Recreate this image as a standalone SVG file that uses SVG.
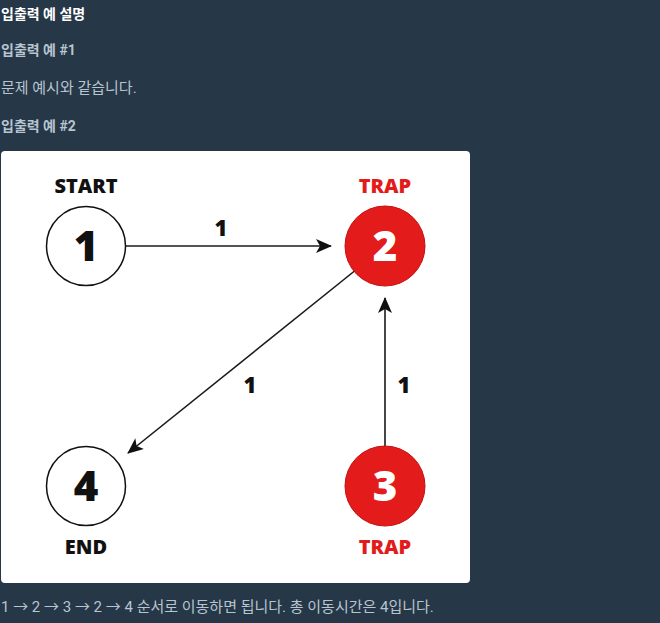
<svg xmlns="http://www.w3.org/2000/svg" width="660" height="623" viewBox="0 0 660 623">
<defs>
<style>
.hd{font-family:"Roboto","Noto Sans CJK KR",sans-serif;font-size:14px;font-weight:bold}
.tx{font-family:"Roboto","Noto Sans CJK KR",sans-serif;font-size:15px;fill:#b8c5d0}
.lbl{font-family:"Open Sans","Noto Sans",sans-serif;font-weight:800;font-size:20px;text-anchor:middle}
.num{font-family:"Open Sans","Noto Sans",sans-serif;font-weight:800;font-size:42px;text-anchor:middle}
.w{font-family:"Open Sans","Noto Sans",sans-serif;font-weight:800;font-size:22px;text-anchor:middle;fill:#111}
.edge{stroke:#1a1a1a;stroke-width:1.6;fill:none;marker-end:url(#ah)}
.wc{fill:#fff;stroke:#111;stroke-width:1.5}
.rc{fill:#e31b1b;stroke:#c41010;stroke-width:1}
</style>
<marker id="ah" viewBox="0 0 16 14" refX="15" refY="7" markerWidth="16" markerHeight="14" markerUnits="userSpaceOnUse" orient="auto">
<path d="M0,0 L16,7 L0,14 L4,7 Z" fill="#111"/>
</marker>
</defs>
<rect width="660" height="623" fill="#263747"/>
<text class="hd" x="1" y="19" fill="#ffffff">입출력 예 설명</text>
<text class="hd" x="1" y="55" fill="#b8c5d0">입출력 예 #1</text>
<text class="tx" x="1" y="93">문제 예시와 같습니다.</text>
<text class="hd" x="1" y="131" fill="#b8c5d0">입출력 예 #2</text>
<rect x="1" y="151" width="469" height="432" rx="4" fill="#ffffff"/>
<g id="edges">
<line class="edge" x1="126" y1="246" x2="331" y2="246"/>
<text class="w" x="221" y="236">1</text>
<line class="edge" x1="357" y1="269" x2="128" y2="453"/>
<text class="w" x="250" y="393">1</text>
<line class="edge" x1="385" y1="446" x2="385" y2="298"/>
<text class="w" x="404" y="393">1</text>
</g>
<g id="node1">
<text class="lbl" x="86" y="193" fill="#111">START</text>
<circle class="wc" cx="86" cy="246" r="39.5"/>
<text class="num" x="86" y="261" fill="#111">1</text>
</g>
<g id="node2">
<text class="lbl" x="385" y="193" fill="#e31b1b">TRAP</text>
<circle class="rc" cx="385" cy="246" r="40"/>
<text class="num" x="385" y="261" fill="#fff">2</text>
</g>
<g id="node4">
<circle class="wc" cx="86" cy="486" r="39.5"/>
<text class="num" x="86" y="501" fill="#111">4</text>
<text class="lbl" x="86" y="554" fill="#111">END</text>
</g>
<g id="node3">
<circle class="rc" cx="385" cy="486" r="40"/>
<text class="num" x="385" y="501" fill="#fff">3</text>
<text class="lbl" x="385" y="554" fill="#e31b1b">TRAP</text>
</g>
<text class="tx" x="1" y="612">1 → 2 → 3 → 2 → 4 순서로 이동하면 됩니다. 총 이동시간은 4입니다.</text>
</svg>
